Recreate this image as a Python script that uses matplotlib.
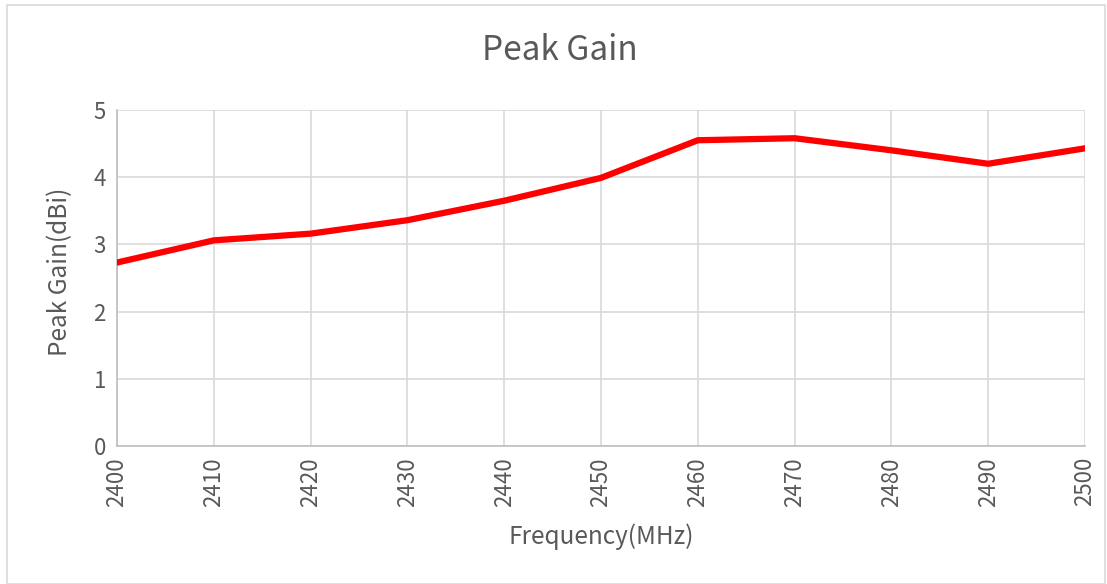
import matplotlib
matplotlib.use("Agg")
import matplotlib.pyplot as plt
from matplotlib.patches import Rectangle

# Peak gain vs frequency
freq = [2400, 2410, 2420, 2430, 2440, 2450, 2460, 2470, 2480, 2490, 2500]
gain = [2.73, 3.06, 3.16, 3.36, 3.65, 3.99, 4.55, 4.58, 4.40, 4.20, 4.43]
y_ticks = [0, 1, 2, 3, 4, 5]

plt.rcParams['font.family'] = ['Noto Sans CJK SC', 'DejaVu Sans']
plt.rcParams['font.weight'] = 'light'
text_color = "#595959"
grid_color = "#d9d9d9"

fig = plt.figure(figsize=(11.07, 5.84), dpi=100)
W, H = 1107, 584
ax = fig.add_axes([117 / W, 1 - 446 / H, (1085 - 117) / W, (446 - 110) / H])

# outer chart border
fig.patches.append(Rectangle((7 / W, 0), (1105 - 7) / W, 1 - 5 / H,
                             transform=fig.transFigure, fill=False,
                             edgecolor=grid_color, linewidth=1.2))

ax.plot(freq, gain, color="#ff0000", linewidth=4.5, solid_capstyle="round",
        solid_joinstyle="round", zorder=3)

ax.set_xlim(2400, 2500)
ax.set_ylim(0, 5)
ax.set_xticks(freq)
ax.set_xticklabels([str(f) for f in freq], rotation=90)
ax.set_yticks(y_ticks)
ax.grid(True, color=grid_color, linewidth=1.2)
ax.set_axisbelow(True)

for side in ["top", "right"]:
    ax.spines[side].set_visible(False)
ax.spines["left"].set_color("#bfbfbf")
ax.spines["bottom"].set_color("#bfbfbf")
ax.spines["left"].set_linewidth(1.2)
ax.spines["bottom"].set_linewidth(1.2)

ax.tick_params(axis="both", length=0, labelsize=16, colors=text_color, pad=8)

fig.text(560 / W, 1 - 51 / H, "Peak Gain", fontsize=24, color=text_color,
         ha="center", va="center")
fig.text(601 / W, 1 - 537 / H, "Frequency(MHz)", fontsize=17.5, color=text_color,
         ha="center", va="center")
fig.text(60 / W, 1 - 272 / H, "Peak Gain(dBi)", fontsize=17.5, color=text_color,
         ha="center", va="center", rotation=90)

fig.savefig("out.png", dpi=100)
